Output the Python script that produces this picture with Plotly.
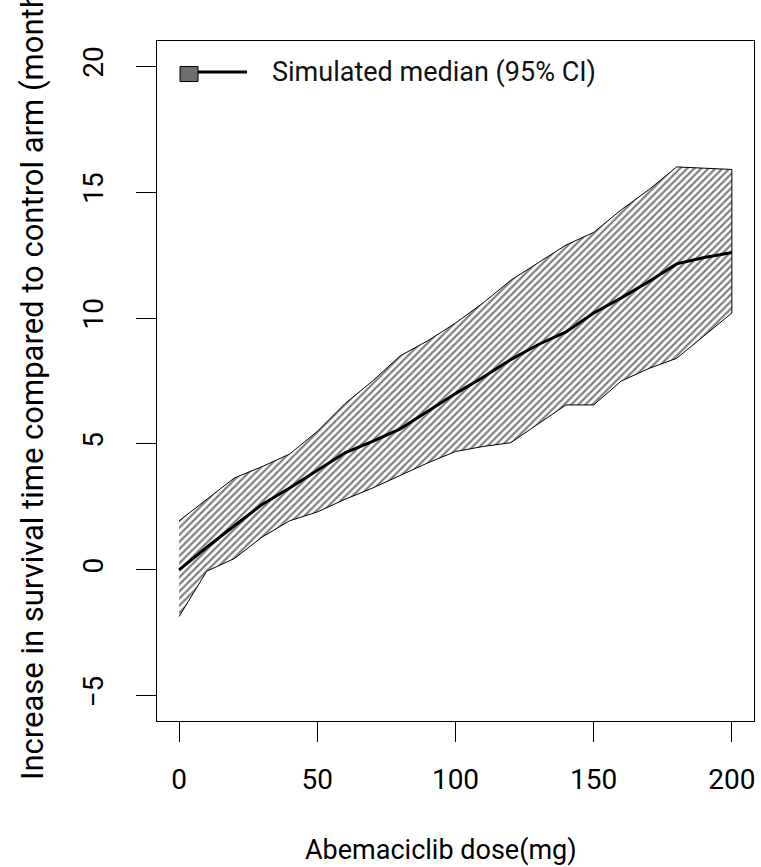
import plotly.graph_objects as go

dose = [0, 10, 20, 30, 40, 50, 60, 70, 80, 90, 100, 110, 120, 130, 140, 150, 160, 170, 180, 190, 200]
upper = [1.95, 2.8, 3.65, 4.1, 4.6, 5.5, 6.6, 7.5, 8.5, 9.1, 9.8, 10.6, 11.5, 12.2, 12.9, 13.4, 14.3, 15.1, 16.0, 15.95, 15.9]
lower = [-1.85, -0.05, 0.45, 1.3, 1.95, 2.3, 2.8, 3.25, 3.75, 4.25, 4.7, 4.9, 5.05, 5.8, 6.55, 6.55, 7.5, 8.0, 8.4, 9.3, 10.2]
median = [0.0, 0.9, 1.75, 2.6, 3.25, 3.95, 4.65, 5.1, 5.6, 6.3, 7.0, 7.65, 8.35, 8.95, 9.45, 10.2, 10.8, 11.45, 12.15, 12.4, 12.6]
xticks = [0, 50, 100, 150, 200]
yticks = [-5, 0, 5, 10, 15, 20]
legend_label = "Simulated median (95% CI)"
x_title = "Abemaciclib dose(mg)"
y_title = "Increase in survival time compared to control arm (months)"

FONT = "Roboto"
fig = go.Figure()
fig.add_trace(go.Scatter(
    x=dose + dose[::-1], y=upper + lower[::-1],
    mode="lines", fill="toself",
    fillcolor="white",
    fillpattern=dict(shape="/", fgcolor="black", bgcolor="white", size=5, solidity=0.45),
    line=dict(color="black", width=1), showlegend=False, hoverinfo="skip"))
fig.add_trace(go.Scatter(
    x=dose, y=median, mode="lines",
    line=dict(color="black", width=3), showlegend=False))

W, H = 761, 867
L, R, T, B = 157, 7, 41, 146
pw, ph = W - L - R, H - T - B

def px(x):
    return (x - L) / pw

def py(y):
    return (H - B - y) / ph

shapes = [
    dict(type="rect", xref="paper", yref="paper", x0=px(180), x1=px(198), y0=py(81.5), y1=py(66.5),
         fillcolor="#6e6e6e", line=dict(color="black", width=1)),
    dict(type="line", xref="paper", yref="paper", x0=px(198), x1=px(247), y0=py(72), y1=py(72),
         line=dict(color="black", width=3)),
]
annotations = [
    dict(text=legend_label, xref="paper", yref="paper", x=px(270), y=py(72), xanchor="left", yanchor="middle",
         showarrow=False, font=dict(family=FONT, size=27, color="#111")),
    dict(text=x_title, xref="paper", yref="paper", x=px(441), y=py(850), xanchor="center", yanchor="middle",
         showarrow=False, font=dict(family=FONT, size=27, color="black")),
    dict(text=y_title, xref="paper", yref="paper", x=px(32), y=py(372), xanchor="center", yanchor="middle",
         textangle=-90, showarrow=False, font=dict(family=FONT, size=31, color="black")),
]

fig.update_layout(
    width=W, height=H, margin=dict(l=L, r=R, t=T, b=B, autoexpand=False),
    paper_bgcolor="white", plot_bgcolor="white",
    font=dict(family=FONT, size=28, color="black"),
    shapes=shapes, annotations=annotations,
    xaxis=dict(range=[-8, 208], tickvals=xticks, ticks="outside", ticklen=20, tickwidth=1, tickcolor="black",
               showline=True, mirror=True, linecolor="black", linewidth=1, showgrid=False, zeroline=False,
               ticklabelstandoff=13, tickfont=dict(family=FONT, size=28)),
    yaxis=dict(range=[-6, 21], tickvals=yticks, ticks="outside", ticklen=20, tickwidth=1, tickcolor="black",
               showline=True, mirror=True, linecolor="black", linewidth=1, showgrid=False, zeroline=False,
               tickangle=-90, ticklabelstandoff=22, tickfont=dict(family=FONT, size=28)),
)
fig.write_html("out.html")
